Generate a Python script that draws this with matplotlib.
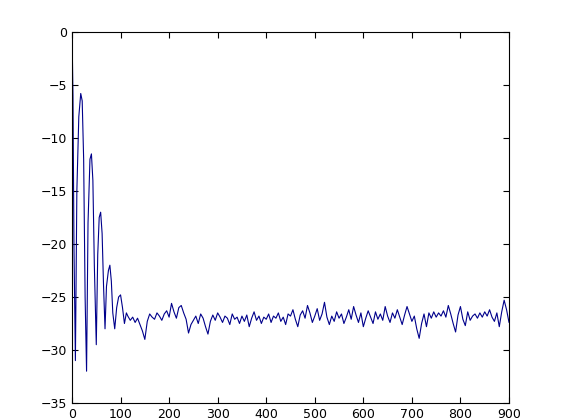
import numpy as np
import matplotlib.pyplot as plt

# main lobe / sidelobe region
x_head = [0, 2, 4, 7, 10, 14, 18, 21, 24, 27, 30, 33, 37, 40, 43, 46, 50, 53, 56, 59, 62, 65, 68,
          71, 75, 78, 81, 84, 88, 92, 96, 100, 104, 108, 112]
y_head = [0, -6, -20, -31, -15, -8, -5.8, -6.5, -12, -25, -32, -18, -12, -11.5, -14, -22, -29.5,
          -21, -17.5, -17, -19, -24, -28, -24, -22.5, -22, -23.5, -26.5, -28, -26, -25, -24.8,
          -26, -27.5, -26.5]

# noise floor, sampled every 5 units from 115 to 900
y_tail = [-26.8, -27.2, -26.9, -27.4, -27.0, -27.6, -28.2, -29.0, -27.3, -26.6, -26.9, -27.1,
          -26.5, -26.8, -27.2, -26.6, -26.3, -26.9, -25.6, -26.4, -27.0, -26.0, -25.8, -26.5,
          -27.1, -28.4, -27.6, -27.2, -26.8, -27.5, -26.6, -27.0, -27.8, -28.5, -27.3, -26.7,
          -27.2, -26.5, -26.9, -27.4, -26.8, -27.0, -27.6, -26.6, -27.1, -26.9, -27.5, -26.8,
          -27.3, -26.7, -27.8, -27.0, -26.4, -27.2, -26.8, -27.5, -26.9, -27.1, -26.6, -27.4,
          -26.8, -27.0, -26.5, -27.3, -26.9, -27.6, -26.6, -26.8, -26.2, -27.1, -27.8, -26.7,
          -26.3, -27.0, -25.8, -26.5, -27.4, -26.8, -26.1, -27.2, -26.6, -25.5, -26.9, -27.6,
          -26.8, -27.3, -26.4, -27.0, -26.6, -27.5, -26.9, -26.2, -27.1, -25.9, -26.7, -27.4,
          -26.5, -27.8, -27.0, -26.3, -26.9, -27.5, -26.4, -27.1, -26.6, -27.2, -25.9, -26.8,
          -27.4, -26.5, -27.0, -26.2, -26.9, -27.6, -26.7, -25.9, -26.6, -27.3, -26.8, -28.0,
          -28.9, -27.5, -26.6, -27.8, -26.5, -27.0, -26.4, -26.9, -26.5, -26.8, -26.3, -26.9,
          -25.8, -26.6, -27.5, -28.3, -26.7, -25.9, -27.1, -27.7, -26.4, -27.2, -26.8, -26.6,
          -27.0, -26.5, -26.9, -26.4, -26.8, -26.2, -26.9, -27.3, -26.5, -27.8, -26.4, -25.3,
          -26.2, -27.4, -26.6, -27.0, -27.6, -26.8, -27.2, -26.9]
x_tail = list(range(115, 115 + 5 * len(y_tail), 5))

x = x_head + x_tail
y = y_head + y_tail

fig = plt.figure(figsize=(5.61, 4.20), dpi=100)
ax = fig.add_axes([72/561, 17/420, 437/561, 371/420])
ax.plot(x, y, color='#00008B', linewidth=0.8)
ax.set_xlim(0, 900)
ax.set_ylim(-35, 0)
ax.set_xticks(range(0, 901, 100))
ax.set_yticks(range(-35, 1, 5))
ax.tick_params(direction='in', labelsize=9, top=True, right=True, length=4)
fig.savefig('out.png', dpi=100)
